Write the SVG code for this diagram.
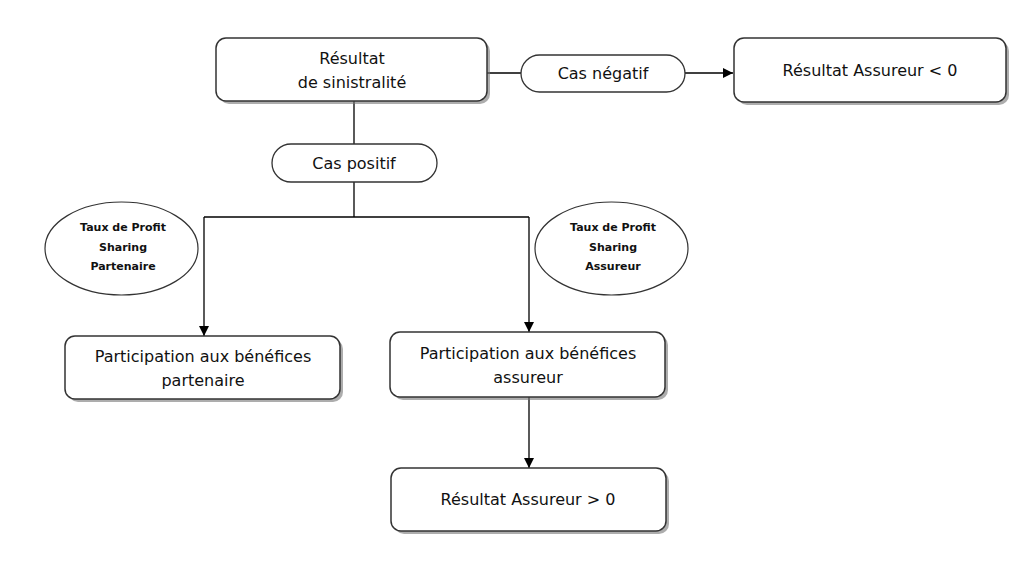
<svg xmlns="http://www.w3.org/2000/svg" width="1034" height="561" viewBox="0 0 1034 561">
<defs>
<marker id="arr" viewBox="0 0 10 10" refX="10" refY="5" markerWidth="10" markerHeight="10" markerUnits="userSpaceOnUse" orient="auto">
<path d="M0,0 L10,5 L0,10 z" fill="#000"/>
</marker>
</defs>
<style>
.box{fill:#fff;stroke:#333;stroke-width:1.5}
.sh{fill:#777;opacity:0.6}
.pill{fill:#fff;stroke:#333;stroke-width:1.3}
.ell{fill:#fff;stroke:#333;stroke-width:1.2}
.t{font-family:"DejaVu Sans",sans-serif;font-size:16px;fill:#111;text-anchor:middle}
.s{font-family:"DejaVu Sans",sans-serif;font-size:11px;font-weight:bold;fill:#111;text-anchor:middle}
.c{fill:none;stroke:#000;stroke-width:1.3}
</style>
<rect width="1034" height="561" fill="#fff"/>
<g id="connectors">
<path class="c" d="M487,73 H521"/>
<path class="c" d="M685,73 H733" marker-end="url(#arr)"/>
<path class="c" d="M354,101 V144"/>
<path class="c" d="M354,182 V217"/>
<path class="c" d="M204,217 H529"/>
<path class="c" d="M204,217 V336" marker-end="url(#arr)"/>
<path class="c" d="M529,217 V332" marker-end="url(#arr)"/>
<path class="c" d="M529,397 V468" marker-end="url(#arr)"/>
</g>
<g id="n-resultat">
<rect class="sh" x="219" y="41" width="271" height="63" rx="10"/>
<rect class="box" x="216" y="38" width="271" height="63" rx="10"/>
<text class="t" x="352" y="64">Résultat</text>
<text class="t" x="352" y="88">de sinistralité</text>
</g>
<g id="n-cas-negatif">
<rect class="pill" x="521" y="55" width="164" height="37" rx="18.5"/>
<text class="t" x="603" y="79">Cas négatif</text>
</g>
<g id="n-resultat-neg">
<rect class="sh" x="737" y="41" width="272" height="64" rx="10"/>
<rect class="box" x="734" y="38" width="272" height="64" rx="10"/>
<text class="t" x="870" y="76">Résultat Assureur &lt; 0</text>
</g>
<g id="n-cas-positif">
<rect class="pill" x="272" y="144" width="165" height="38" rx="19"/>
<text class="t" x="354" y="169">Cas positif</text>
</g>
<g id="n-taux-partenaire">
<ellipse class="ell" cx="121.5" cy="248.5" rx="76.5" ry="46.5"/>
<text class="s" x="123" y="231">Taux de Profit</text>
<text class="s" x="123" y="251">Sharing</text>
<text class="s" x="123" y="270">Partenaire</text>
</g>
<g id="n-taux-assureur">
<ellipse class="ell" cx="611.5" cy="248.5" rx="76.5" ry="46.5"/>
<text class="s" x="613" y="231">Taux de Profit</text>
<text class="s" x="613" y="251">Sharing</text>
<text class="s" x="613" y="270">Assureur</text>
</g>
<g id="n-pb-partenaire">
<rect class="sh" x="68" y="339" width="275" height="63" rx="10"/>
<rect class="box" x="65" y="336" width="275" height="63" rx="10"/>
<text class="t" x="203" y="362">Participation aux bénéfices</text>
<text class="t" x="203" y="386">partenaire</text>
</g>
<g id="n-pb-assureur">
<rect class="sh" x="393" y="335" width="275" height="65" rx="10"/>
<rect class="box" x="390" y="332" width="275" height="65" rx="10"/>
<text class="t" x="528" y="359">Participation aux bénéfices</text>
<text class="t" x="528" y="383">assureur</text>
</g>
<g id="n-resultat-pos">
<rect class="sh" x="394" y="471" width="275" height="63" rx="10"/>
<rect class="box" x="391" y="468" width="275" height="63" rx="10"/>
<text class="t" x="528" y="505">Résultat Assureur &gt; 0</text>
</g>
</svg>
